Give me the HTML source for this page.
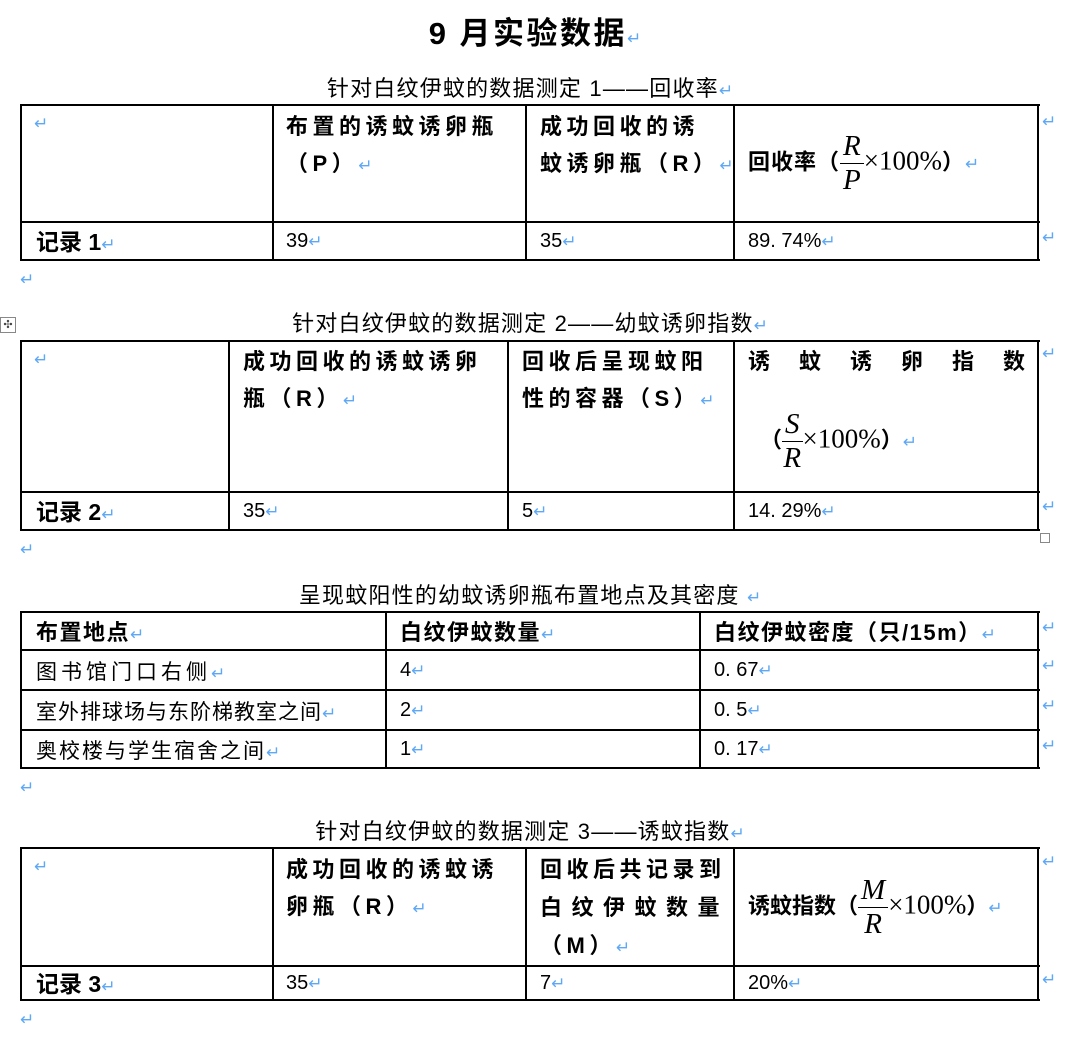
<!DOCTYPE html>
<html><head><meta charset="utf-8"><style>
body{margin:0;width:1080px;height:1048px;background:#fff;position:relative;overflow:hidden;font-family:"Liberation Sans","Noto Sans CJK SC",sans-serif;color:#000}
.a{position:absolute;white-space:nowrap}
.h{position:absolute;background:#000;height:2px}
.v{position:absolute;background:#000;width:2px}
.r{color:#5ea8f5;font-size:17px;font-weight:normal;letter-spacing:0}
.b{font-weight:bold;font-size:22px;letter-spacing:4.5px;line-height:37px}
.t{font-size:20px}
.c{font-size:22px;letter-spacing:1.2px;left:0;width:1060px;text-align:center}
.m{font-family:"Liberation Serif",serif;font-size:27px;font-weight:normal;letter-spacing:0}
.f{display:inline-block;vertical-align:middle;text-align:center;font-family:"Liberation Serif",serif;font-style:italic;font-size:29px;line-height:33px;letter-spacing:0;font-weight:normal}
.f span{display:block;border-bottom:1.5px solid #000;padding:0 3px}
.p{font-size:21px;letter-spacing:4px}
.hb{font-weight:bold;font-size:22px;letter-spacing:1.5px}
</style></head><body>
<div class="a" style="left:0;width:1070px;text-align:center;top:8px;font-size:31px;font-weight:bold;letter-spacing:2.5px">9 月实验数据<span class="r">↵</span></div>

<!-- table 1 -->
<div class="a c" style="top:71px">针对白纹伊蚊的数据测定 1——回收率<span class="r">↵</span></div>
<div class="h" style="left:20px;width:1020px;top:104px"></div>
<div class="h" style="left:20px;width:1020px;top:221px"></div>
<div class="h" style="left:20px;width:1020px;top:259px"></div>
<div class="v" style="left:20px;top:104px;height:157px"></div>
<div class="v" style="left:272px;top:104px;height:157px"></div>
<div class="v" style="left:525px;top:104px;height:157px"></div>
<div class="v" style="left:733px;top:104px;height:157px"></div>
<div class="v" style="left:1037px;top:104px;height:157px"></div>
<div class="a r" style="left:34px;top:114px">↵</div>
<div class="a b" style="left:286px;top:108px">布置的诱蚊诱卵瓶<br>（P）<span class="r">↵</span></div>
<div class="a b" style="left:540px;top:108px">成功回收的诱<br>蚊诱卵瓶（R）<span class="r">↵</span></div>
<div class="a b" style="left:748px;top:130px;letter-spacing:1px">回收率（<span class="f"><span>R</span>P</span><span class="m">×100%</span>）<span class="r">↵</span></div>
<div class="a r" style="left:1042px;top:112px">↵</div>
<div class="a b" style="left:36px;top:224px;letter-spacing:0;font-size:23px">记录 1<span class="r">↵</span></div>
<div class="a t" style="left:286px;top:230px">39<span class="r">↵</span></div>
<div class="a t" style="left:540px;top:230px">35<span class="r">↵</span></div>
<div class="a t" style="left:748px;top:230px">89. 74%<span class="r">↵</span></div>
<div class="a r" style="left:1042px;top:228px">↵</div>
<div class="a r" style="left:20px;top:270px">↵</div>

<!-- table 2 -->
<div class="a c" style="top:306px">针对白纹伊蚊的数据测定 2——幼蚊诱卵指数<span class="r">↵</span></div>
<div class="a" style="left:0;top:317px;width:14px;height:14px;border:1px solid #888;font-size:11px;line-height:14px;text-align:center;color:#444">✣</div>
<div class="h" style="left:20px;width:1020px;top:340px"></div>
<div class="h" style="left:20px;width:1020px;top:491px"></div>
<div class="h" style="left:20px;width:1020px;top:529px"></div>
<div class="v" style="left:20px;top:340px;height:191px"></div>
<div class="v" style="left:228px;top:340px;height:191px"></div>
<div class="v" style="left:507px;top:340px;height:191px"></div>
<div class="v" style="left:733px;top:340px;height:191px"></div>
<div class="v" style="left:1037px;top:340px;height:191px"></div>
<div class="a r" style="left:34px;top:350px">↵</div>
<div class="a b" style="left:243px;top:343px">成功回收的诱蚊诱卵<br>瓶（R）<span class="r">↵</span></div>
<div class="a b" style="left:522px;top:343px">回收后呈现蚊阳<br>性的容器（S）<span class="r">↵</span></div>
<div class="a b" style="left:748px;top:343px;letter-spacing:29px">诱蚊诱卵指数</div>
<div class="a b" style="left:760px;top:408px;letter-spacing:0">（<span class="f"><span>S</span>R</span><span class="m">×100%</span>）<span class="r">↵</span></div>
<div class="a r" style="left:1042px;top:344px">↵</div>
<div class="a b" style="left:36px;top:494px;letter-spacing:0;font-size:23px">记录 2<span class="r">↵</span></div>
<div class="a t" style="left:243px;top:500px">35<span class="r">↵</span></div>
<div class="a t" style="left:522px;top:500px">5<span class="r">↵</span></div>
<div class="a t" style="left:748px;top:500px">14. 29%<span class="r">↵</span></div>
<div class="a r" style="left:1042px;top:497px">↵</div>
<div class="a" style="left:1040px;top:533px;width:8px;height:8px;border:1px solid #888"></div>
<div class="a r" style="left:20px;top:540px">↵</div>

<!-- table 3 -->
<div class="a c" style="top:578px">呈现蚊阳性的幼蚊诱卵瓶布置地点及其密度 <span class="r">↵</span></div>
<div class="h" style="left:20px;width:1020px;top:611px"></div>
<div class="h" style="left:20px;width:1020px;top:649px"></div>
<div class="h" style="left:20px;width:1020px;top:689px"></div>
<div class="h" style="left:20px;width:1020px;top:729px"></div>
<div class="h" style="left:20px;width:1020px;top:767px"></div>
<div class="v" style="left:20px;top:611px;height:158px"></div>
<div class="v" style="left:385px;top:611px;height:158px"></div>
<div class="v" style="left:699px;top:611px;height:158px"></div>
<div class="v" style="left:1037px;top:611px;height:158px"></div>
<div class="a hb" style="left:36px;top:615px">布置地点<span class="r">↵</span></div>
<div class="a hb" style="left:400px;top:615px">白纹伊蚊数量<span class="r">↵</span></div>
<div class="a hb" style="left:714px;top:615px">白纹伊蚊密度（只/15m）<span class="r">↵</span></div>
<div class="a p" style="left:36px;top:656px">图书馆门口右侧<span class="r">↵</span></div>
<div class="a t" style="left:400px;top:659px">4<span class="r">↵</span></div>
<div class="a t" style="left:714px;top:659px">0. 67<span class="r">↵</span></div>
<div class="a p" style="left:36px;top:696px;letter-spacing:1px">室外排球场与东阶梯教室之间<span class="r">↵</span></div>
<div class="a t" style="left:400px;top:699px">2<span class="r">↵</span></div>
<div class="a t" style="left:714px;top:699px">0. 5<span class="r">↵</span></div>
<div class="a p" style="left:36px;top:735px;letter-spacing:2px">奥校楼与学生宿舍之间<span class="r">↵</span></div>
<div class="a t" style="left:400px;top:738px">1<span class="r">↵</span></div>
<div class="a t" style="left:714px;top:738px">0. 17<span class="r">↵</span></div>
<div class="a r" style="left:1042px;top:618px">↵</div>
<div class="a r" style="left:1042px;top:656px">↵</div>
<div class="a r" style="left:1042px;top:696px">↵</div>
<div class="a r" style="left:1042px;top:736px">↵</div>
<div class="a r" style="left:20px;top:778px">↵</div>

<!-- table 4 -->
<div class="a c" style="top:814px">针对白纹伊蚊的数据测定 3——诱蚊指数<span class="r">↵</span></div>
<div class="h" style="left:20px;width:1020px;top:847px"></div>
<div class="h" style="left:20px;width:1020px;top:965px"></div>
<div class="h" style="left:20px;width:1020px;top:999px"></div>
<div class="v" style="left:20px;top:847px;height:154px"></div>
<div class="v" style="left:272px;top:847px;height:154px"></div>
<div class="v" style="left:525px;top:847px;height:154px"></div>
<div class="v" style="left:733px;top:847px;height:154px"></div>
<div class="v" style="left:1037px;top:847px;height:154px"></div>
<div class="a r" style="left:34px;top:857px">↵</div>
<div class="a b" style="left:286px;top:851px">成功回收的诱蚊诱<br>卵瓶（R）<span class="r">↵</span></div>
<div class="a b" style="left:540px;top:851px;line-height:38px">回收后共记录到<br><span style="letter-spacing:9.5px">白纹伊蚊数量</span><br>（M）<span class="r">↵</span></div>
<div class="a b" style="left:748px;top:874px;letter-spacing:0">诱蚊指数（<span class="f"><span>M</span>R</span><span class="m">×100%</span>）<span class="r">↵</span></div>
<div class="a r" style="left:1042px;top:852px">↵</div>
<div class="a b" style="left:36px;top:966px;letter-spacing:0;font-size:23px">记录 3<span class="r">↵</span></div>
<div class="a t" style="left:286px;top:972px">35<span class="r">↵</span></div>
<div class="a t" style="left:540px;top:972px">7<span class="r">↵</span></div>
<div class="a t" style="left:748px;top:972px">20%<span class="r">↵</span></div>
<div class="a r" style="left:1042px;top:970px">↵</div>
<div class="a r" style="left:20px;top:1010px">↵</div>
</body></html>
